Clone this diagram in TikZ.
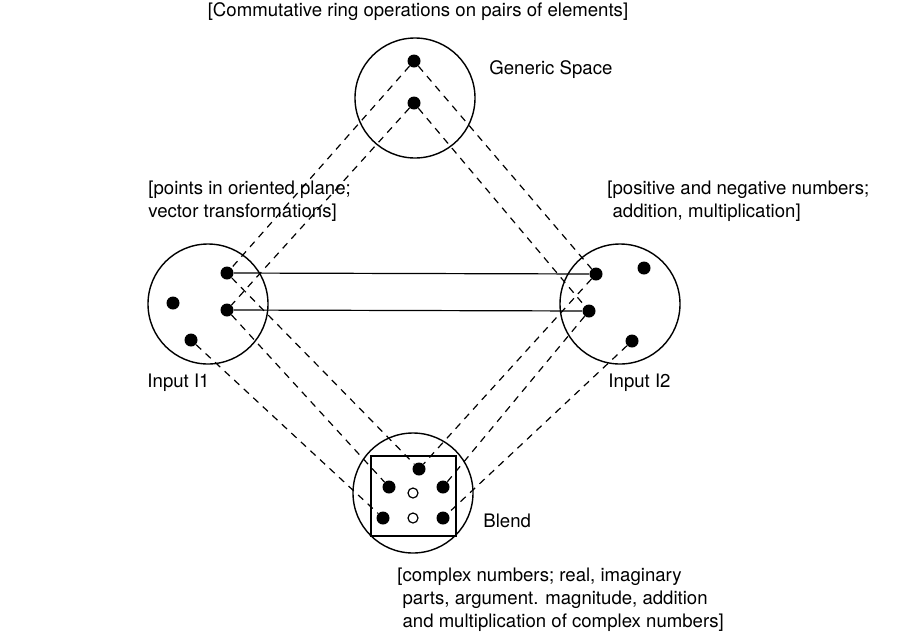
\documentclass[tikz,border=0pt]{standalone}
\usepackage{fontspec}
\setmainfont{TeX Gyre Heros}
\usepackage{tikz}
\usetikzlibrary{positioning}

\begin{document}
\begin{tikzpicture}[x=0.5pt, y=-0.5pt,
dot/.style={circle,inner sep=0pt,minimum size=6.5pt,fill},
dot2/.style={circle,inner sep=0pt,minimum size=5pt,draw,line width=0.6pt,fill=white},
space/.style={circle,draw,line width=0.7pt,minimum size=60pt,inner sep=0pt},
map/.style={dashed,line width=0.6pt,dash pattern=on 3.5pt off 3pt},
note/.style={align=left,inner sep=0pt,anchor=north west}]
\useasboundingbox (0,0) rectangle (900,638);
\fontsize{9.3}{11.5}\selectfont

% spaces
\node [space] (gen) at (415,98) {};
\node [space] (inone) at (208,304) {};
\node [space] (intwo) at (620,304) {};
\node [space] (blend) at (413,493) {};
\draw [line width=0.7pt] (371,456) rectangle (456,536);

% points
\node [dot] (g1) at (414,61) {};
\node [dot] (g2) at (414,103) {};

\node [dot] (a1) at (227,273) {};
\node [dot] (a2) at (227,310) {};
\node [dot] (a3) at (173,303) {};
\node [dot] (a4) at (191,340) {};

\node [dot] (b1) at (596,274) {};
\node [dot] (b2) at (589,311) {};
\node [dot] (b3) at (644,268) {};
\node [dot] (b4) at (632,341) {};

\node [dot] (c1) at (419,469) {};
\node [dot] (c2) at (389,487) {};
\node [dot] (c3) at (443,487) {};
\node [dot] (c4) at (383,518) {};
\node [dot] (c5) at (443,518) {};
\node [dot2] (h1) at (413,493) {};
\node [dot2] (h2) at (413,518) {};

% generic space to the inputs
\draw [map] (g1) -- (a1);
\draw [map] (g2) -- (a2);
\draw [map] (g1) -- (b1);
\draw [map] (g2) -- (b2);

% inputs to the blend
\draw [map] (a1) -- (c1);
\draw [map] (a2) -- (c2);
\draw [map] (a4) -- (c4);
\draw [map] (b1) -- (c1);
\draw [map] (b2) -- (c3);
\draw [map] (b4) -- (c5);

% cross-space mapping
\draw [line width=0.6pt] (a1) -- (b1);
\draw [line width=0.6pt] (a2) -- (b2);

% labels
\node (ring) at (418,12) {[Commutative ring operations on pairs of elements]};
\node [anchor=west,inner sep=0pt] (gname) at (489,70) {Generic Space};
\node [note] (onetext) at (148,181) {[points in oriented plane;\\vector transformations]};
\node [note] (twotext) at (607,181) {[positive and negative numbers;\\\ addition, multiplication]};
\node [anchor=west,inner sep=0pt] (onename) at (147,383) {Input I1};
\node [anchor=west,inner sep=0pt] (twoname) at (608,383) {Input I2};
\node [anchor=west,inner sep=0pt] (bname) at (483,521) {Blend};
\node [note] (btext) at (397,568) {[complex numbers; real, imaginary\\\ parts, argument. magnitude, addition\\\ and multiplication of complex numbers]};
\end{tikzpicture}
\end{document}
